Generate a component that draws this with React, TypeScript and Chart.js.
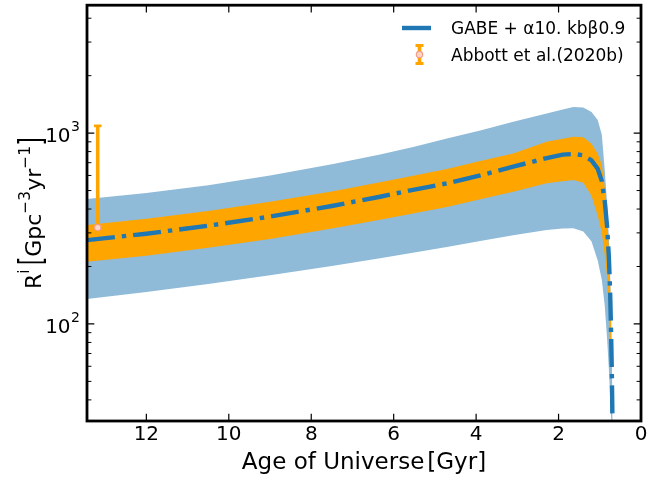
import React, { useEffect, useRef } from 'react';
import { Chart, registerables } from 'chart.js';

Chart.register(...registerables);

// ---- data ----
const ages = [13.44, 12, 10.5, 9, 7.5, 6.33, 5.5, 4.71, 3.9, 3.1, 2.29, 1.9, 1.64, 1.4, 1.2, 1.05, 0.95, 0.88, 0.82, 0.78, 0.75, 0.73, 0.71, 0.7, 0.69, 0.68];
const modelCentral = [275, 297, 327, 365, 415, 464, 506, 545, 600, 667, 740, 771, 778, 765, 720, 650, 560, 440, 320, 225, 150, 100, 60, 42, 29, 20];
const orangeUpper = [330, 356, 391, 437, 495, 552, 600, 648, 714, 783, 900, 935, 957, 950, 880, 780, 680, 520, 370, 250, 170, 112, 66, 45, 30, 20];
const orangeLower = [212, 228, 251, 279, 316, 351, 380, 410, 450, 493, 546, 560, 568, 550, 470, 370, 300, 230, 175, 125, 90, 66, 46, 36, 27, 18];
const blueUpper = [451, 485, 533, 599, 686, 773, 848, 938, 1031, 1146, 1268, 1330, 1370, 1360, 1290, 1170, 980, 640, 420, 285, 190, 125, 72, 48, 31, 20];
const blueLower = [135, 147, 162, 180, 201, 221, 237, 253, 272, 292, 311, 316, 317, 305, 270, 215, 170, 125, 82, 58, 42, 34, 28, 25, 22, 18];

const obsAge = [13.18];
const obsRate = [320];
const obsLow = [240];
const obsHigh = [1090];

const xTicks = [0, 2, 4, 6, 8, 10, 12];
const yMajorTicks = [100, 1000];
const yMinorTicks = [40, 50, 60, 70, 80, 90, 200, 300, 400, 500, 600, 700, 800, 900, 2000, 3000, 4000];

const xMin = 0;
const xMax = 13.44;
const yMin = 31;
const yMax = 4680;

const xTitleMain = 'Age of Universe';
const xTitleUnit = '[Gyr]';
const legendModel = 'GABE + α10. kbβ0.9';
const legendObs = 'Abbott et al.(2020b)';

const FONT = '"DejaVu Sans", sans-serif';
const C0 = '#1f77b4';
const BLUE_BAND = '#8fbbd9';
const ORANGE = '#ffa500';
const PT_FILL = '#fcd6c2';
const PT_EDGE = '#f29c8c';

const pts = (vals: number[]) => ages.map((a, i) => ({ x: a, y: vals[i] }));

const errorBarPlugin = {
  id: 'errorBar',
  beforeDatasetDraw(chart: any, args: any) {
    const ds = chart.data.datasets[args.index];
    if (ds.label !== 'obs') return;
    const { ctx, scales } = chart;
    ctx.save();
    ctx.strokeStyle = ORANGE;
    for (let i = 0; i < obsAge.length; i++) {
      const px = scales.x.getPixelForValue(obsAge[i]);
      const yLo = scales.y.getPixelForValue(obsLow[i]);
      const yHi = scales.y.getPixelForValue(obsHigh[i]);
      ctx.lineWidth = 3.6;
      ctx.beginPath();
      ctx.moveTo(px, yLo);
      ctx.lineTo(px, yHi);
      ctx.stroke();
      ctx.lineWidth = 2.8;
      ctx.beginPath();
      ctx.moveTo(px - 3.8, yHi);
      ctx.lineTo(px + 3.8, yHi);
      ctx.moveTo(px - 3.8, yLo);
      ctx.lineTo(px + 3.8, yLo);
      ctx.stroke();
    }
    ctx.restore();
  },
};

function drawSupLabel(ctx: CanvasRenderingContext2D, base: string, sup: string, rightX: number, y: number) {
  ctx.font = `20px ${FONT}`;
  ctx.textAlign = 'left';
  ctx.textBaseline = 'alphabetic';
  const wb = ctx.measureText(base).width;
  ctx.font = `14px ${FONT}`;
  const ws = ctx.measureText(sup).width;
  const start = rightX - wb - ws - 0.5;
  ctx.font = `20px ${FONT}`;
  ctx.fillText(base, start, y + 9);
  ctx.font = `14px ${FONT}`;
  ctx.fillText(sup, start + wb + 0.5, y - 2);
}

const framePlugin = {
  id: 'frame',
  afterDraw(chart: any) {
    const { ctx, chartArea: a, scales } = chart;
    const xs = scales.x;
    const ys = scales.y;
    ctx.save();
    ctx.strokeStyle = '#000';
    ctx.lineWidth = 1.2;
    ctx.beginPath();
    for (const t of xTicks) {
      const px = xs.getPixelForValue(t);
      ctx.moveTo(px, a.bottom);
      ctx.lineTo(px, a.bottom - 7.3);
      ctx.moveTo(px, a.top);
      ctx.lineTo(px, a.top + 7.3);
    }
    for (const v of yMajorTicks) {
      const py = ys.getPixelForValue(v);
      ctx.moveTo(a.left, py);
      ctx.lineTo(a.left + 7.3, py);
      ctx.moveTo(a.right, py);
      ctx.lineTo(a.right - 7.3, py);
    }
    ctx.stroke();
    ctx.lineWidth = 1;
    ctx.beginPath();
    for (const v of yMinorTicks) {
      const py = ys.getPixelForValue(v);
      ctx.moveTo(a.left, py);
      ctx.lineTo(a.left + 4.4, py);
      ctx.moveTo(a.right, py);
      ctx.lineTo(a.right - 4.4, py);
    }
    ctx.stroke();
    ctx.lineWidth = 2.8;
    ctx.strokeRect(a.left, a.top, a.right - a.left, a.bottom - a.top);

    ctx.fillStyle = '#000';
    // x tick labels
    ctx.font = `20px ${FONT}`;
    ctx.textAlign = 'center';
    ctx.textBaseline = 'alphabetic';
    for (const t of xTicks) {
      ctx.fillText(String(t), xs.getPixelForValue(t), a.bottom + 19);
    }
    // y tick labels
    for (const v of yMajorTicks) {
      drawSupLabel(ctx, '10', String(Math.round(Math.log10(v))), a.left - 7, ys.getPixelForValue(v));
    }
    // x title
    ctx.font = `23px ${FONT}`;
    ctx.textAlign = 'left';
    const w1 = ctx.measureText(xTitleMain).width;
    const w2 = ctx.measureText(xTitleUnit).width;
    const gap = 3;
    const cx = (a.left + a.right) / 2;
    const sx = cx - (w1 + gap + w2) / 2;
    ctx.fillText(xTitleMain, sx, 469);
    ctx.fillText(xTitleUnit, sx + w1 + gap, 469);

    // y title
    ctx.save();
    ctx.translate(41, (a.top + a.bottom) / 2);
    ctx.rotate(-Math.PI / 2);
    const F = 22;
    const S = 15.5;
    const parts: any[] = [
      { t: 'R', f: F, dy: 0 },
      { t: 'i', f: S, dy: -12 },
      { gap: 4 },
      { t: '[', f: F, br: true },
      { t: 'Gpc', f: F, dy: 0 },
      { t: '−3', f: S, dy: -11 },
      { t: 'yr', f: F, dy: 0 },
      { t: '−1', f: S, dy: -11 },
      { t: ']', f: F, br: true },
    ];
    let total = 0;
    for (const p of parts) {
      if (p.gap) { p.w = p.gap; } else { ctx.font = `${p.f}px ${FONT}`; p.w = ctx.measureText(p.t).width; }
      total += p.w;
    }
    let x = -total / 2;
    ctx.textAlign = 'left';
    for (const p of parts) {
      if (!p.gap) {
        ctx.font = `${p.f}px ${FONT}`;
        if (p.br) {
          ctx.save();
          ctx.translate(x, 0);
          ctx.scale(1, 1.45);
          ctx.fillText(p.t, 0, 0);
          ctx.restore();
        } else {
          ctx.fillText(p.t, x, p.dy);
        }
      }
      x += p.w;
    }
    ctx.restore();

    // legend
    ctx.font = `17px ${FONT}`;
    ctx.textAlign = 'left';
    ctx.strokeStyle = C0;
    ctx.lineWidth = 4.4;
    ctx.beginPath();
    ctx.moveTo(402, 28);
    ctx.lineTo(431, 28);
    ctx.stroke();
    ctx.fillStyle = '#000';
    ctx.fillText(legendModel, 451, 34);

    const lx = 419.5;
    ctx.strokeStyle = ORANGE;
    ctx.lineWidth = 3.6;
    ctx.beginPath();
    ctx.moveTo(lx, 45.5);
    ctx.lineTo(lx, 63.5);
    ctx.stroke();
    ctx.lineWidth = 2.8;
    ctx.beginPath();
    ctx.moveTo(lx - 4, 45.5);
    ctx.lineTo(lx + 4, 45.5);
    ctx.moveTo(lx - 4, 63.5);
    ctx.lineTo(lx + 4, 63.5);
    ctx.stroke();
    ctx.beginPath();
    ctx.arc(lx, 54.5, 3.2, 0, Math.PI * 2);
    ctx.fillStyle = PT_FILL;
    ctx.fill();
    ctx.strokeStyle = PT_EDGE;
    ctx.lineWidth = 1.2;
    ctx.stroke();
    ctx.fillStyle = '#000';
    ctx.fillText(legendObs, 451, 60.5);
    ctx.restore();
  },
};

export default function App() {
  const ref = useRef<HTMLCanvasElement>(null);
  useEffect(() => {
    const band = (label: string, vals: number[], fill: any, color: string, order: number) => ({
      label,
      data: pts(vals),
      fill,
      backgroundColor: color,
      borderColor: 'rgba(0,0,0,0)',
      borderWidth: 0,
      pointRadius: 0,
      order,
    });
    const chart = new Chart(ref.current as HTMLCanvasElement, {
      type: 'line',
      data: {
        datasets: [
          band('blueUpper', blueUpper, '+1', BLUE_BAND, 4),
          band('blueLower', blueLower, false, BLUE_BAND, 4),
          band('orangeUpper', orangeUpper, '+1', ORANGE, 3),
          band('orangeLower', orangeLower, false, ORANGE, 3),
          {
            type: 'scatter',
            label: 'obs',
            data: obsAge.map((a, i) => ({ x: a, y: obsRate[i] })),
            pointRadius: 3.2,
            pointBackgroundColor: PT_FILL,
            pointBorderColor: PT_EDGE,
            pointBorderWidth: 1.2,
            showLine: false,
            order: 2,
          } as any,
          {
            label: 'model',
            data: pts(modelCentral),
            fill: false,
            borderColor: C0,
            borderWidth: 4.4,
            borderDash: [28, 7, 4.4, 7],
            borderCapStyle: 'butt',
            pointRadius: 0,
            tension: 0,
            order: 1,
          },
        ],
      },
      options: {
        responsive: false,
        animation: false,
        devicePixelRatio: 1,
        events: [],
        layout: { padding: { left: 87, right: 31, top: 5, bottom: 56 } },
        plugins: { legend: { display: false }, tooltip: { enabled: false } },
        scales: {
          x: { type: 'linear', reverse: true, min: xMin, max: xMax, display: false },
          y: { type: 'logarithmic', min: yMin, max: yMax, display: false },
        },
      },
      plugins: [errorBarPlugin, framePlugin],
    } as any);
    return () => chart.destroy();
  }, []);
  return (
    <div style={{ position: 'fixed', left: 0, top: 0, width: 672, height: 477, background: '#fff' }}>
      <canvas ref={ref} width={672} height={477} style={{ display: 'block', width: 672, height: 477 }} />
    </div>
  );
}
